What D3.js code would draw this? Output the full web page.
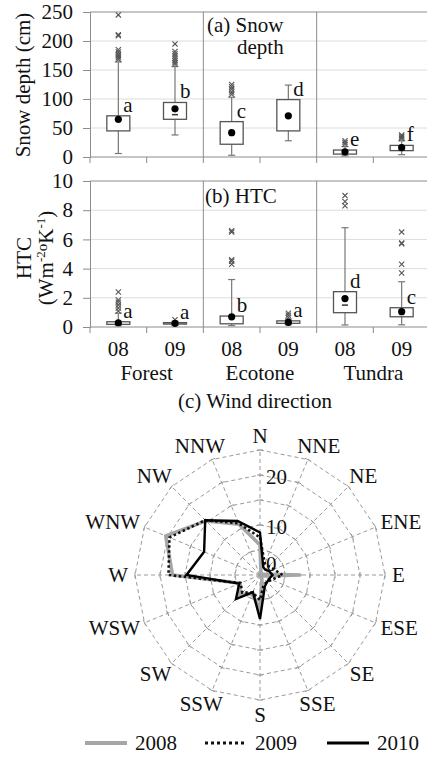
<!DOCTYPE html>
<html>
<head>
<meta charset="utf-8">
<script src="https://cdn.jsdelivr.net/npm/d3@7/dist/d3.min.js"></script>
<style>
  html, body { margin: 0; padding: 0; background: #fff; }
  svg { display: block; }
  svg text { font-family: "Liberation Serif", Tinos, "Times New Roman", Times, "DejaVu Serif", serif !important; fill: #111; }
</style>
</head>
<body>
<svg id="chart" width="427" height="757" font-family="Liberation Serif, Times New Roman, DejaVu Serif, serif"></svg>
<script>
// ---- categories ----
const groups = ["Forest", "Ecotone", "Tundra"];
const years = ["08", "09"];
const boxKeys = ["Forest-08", "Forest-09", "Ecotone-08", "Ecotone-09", "Tundra-08", "Tundra-09"];

// ---- (a) snow depth (cm) ----
const snowLow    = [6, 38, 3, 28, 2, 4];
const snowQ1     = [45, 65, 22, 45, 5, 11];
const snowQ3     = [71, 94, 61, 99, 12, 20];
const snowHigh   = [164, 156, 103, 124, 18, 28];
const snowMean   = [65, 83, 42, 71, 9, 16];
const snowMedian = [null, 73, null, null, null, null];
const snowOutliers = [
  [168, 171, 174, 177, 181, 185, 209, 211, 245],
  [160, 163, 166, 170, 174, 178, 182, 195],
  [108, 112, 117, 121, 125],
  [],
  [22, 25, 28],
  [32, 34, 36, 38]
];
const snowLetters = ["a", "b", "c", "d", "e", "f"];
const snowTicks = [0, 50, 100, 150, 200, 250];

// ---- (b) HTC ----
const htcLow    = [0.08, 0.1, 0.1, 0.15, 0.14, 0.15];
const htcQ1     = [0.18, 0.2, 0.22, 0.25, 0.98, 0.7];
const htcQ3     = [0.36, 0.3, 0.75, 0.42, 2.42, 1.32];
const htcHigh   = [0.95, 0.4, 3.25, 0.55, 6.8, 3.1];
const htcMean   = [0.29, 0.25, 0.7, 0.32, 1.95, 1.05];
const htcMedian = [null, null, null, null, 1.5, null];
const htcOutliers = [
  [1.1, 1.3, 1.5, 1.7, 1.85, 2.4],
  [0.5],
  [4.3, 4.5, 4.6, 6.5, 6.6],
  [0.65, 0.8, 0.95],
  [8.3, 8.6, 9.0],
  [3.7, 4.3, 5.7, 5.75, 6.5]
];
const htcLetters = ["a", "a", "b", "a", "d", "c"];
const htcTicks = [0, 2, 4, 6, 8, 10];

// ---- (c) wind direction (%) ----
const directions = ["N", "NNE", "NE", "ENE", "E", "ESE", "SE", "SSE",
                    "S", "SSW", "SW", "WSW", "W", "WNW", "NW", "NNW"];
const wind2008 = [6, 0.5, 0.3, 0.5, 8, 0.5, 0.3, 1, 7, 4, 5.7, 4.3, 17.5, 20.4, 15.3, 11];
const wind2009 = [7.5, 2.5, 2.5, 3, 4.5, 2.5, 2, 2, 5, 3.8, 5, 4.2, 18.3, 19.6, 15.5, 11.2];
const wind2010 = [8.5, 1.7, 1.5, 2, 2.5, 2, 2, 2.5, 8.8, 3.7, 6.8, 4.5, 14.7, 12.1, 15.5, 11.7];
const windRings = [5, 10, 15, 20, 25];
const windTickLabels = [0, 10, 20];
const legendYears = ["2008", "2009", "2010"];

const svg = d3.select("#chart");
const FONT = 21;
const SERIF = "Liberation Serif, Tinos, Times New Roman, DejaVu Serif, serif";

// shared horizontal band scale for the two box panels
const x = d3.scaleBand().domain(boxKeys).range([90, 430]).paddingInner(0).paddingOuter(0);
const boxW = 23;

function boxPanel(cfg) {
  const { y, ticks, low, q1, q3, high, mean, median, outliers, letters, top, bottom } = cfg;
  const g = svg.append("g");

  // gridlines
  g.selectAll("line.grid").data(ticks.slice(1)).join("line")
    .attr("x1", 90).attr("x2", 430)
    .attr("y1", d => y(d)).attr("y2", d => y(d))
    .attr("stroke", d => d === ticks[ticks.length - 1] ? "#8c8c8c" : "#dcdcdc")
    .attr("stroke-width", 1);

  // group separators
  const seps = [boxKeys[2], boxKeys[4]];
  g.selectAll("line.sep").data(seps).join("line")
    .attr("x1", d => x(d)).attr("x2", d => x(d))
    .attr("y1", top).attr("y2", bottom)
    .attr("stroke", "#8c8c8c").attr("stroke-width", 1);

  // left axis
  const ax = g.append("g").attr("transform", "translate(90,0)")
    .call(d3.axisLeft(y).tickValues(ticks).tickSize(7).tickPadding(10).tickFormat(d3.format("d")));
  ax.attr("font-family", SERIF);
  ax.select(".domain").attr("stroke", "#8c8c8c");
  ax.selectAll(".tick line").attr("stroke", "#8c8c8c");
  ax.selectAll(".tick text").attr("font-size", FONT).attr("fill", "#111");

  // bottom axis line + category boundary ticks
  g.append("line").attr("x1", 90).attr("x2", 430).attr("y1", bottom).attr("y2", bottom)
    .attr("stroke", "#8c8c8c");
  const bounds = boxKeys.map(k => x(k));
  g.selectAll("line.bt").data(bounds).join("line")
    .attr("x1", d => d).attr("x2", d => d)
    .attr("y1", bottom).attr("y2", bottom + 6)
    .attr("stroke", "#8c8c8c");

  boxKeys.forEach((k, i) => {
    const cx = x(k) + x.bandwidth() / 2;
    const bg = g.append("g");
    // whisker
    bg.append("line").attr("x1", cx).attr("x2", cx)
      .attr("y1", y(low[i])).attr("y2", y(high[i]))
      .attr("stroke", "#777").attr("stroke-width", 1.2);
    [low[i], high[i]].forEach(v => {
      bg.append("line").attr("x1", cx - 3.5).attr("x2", cx + 3.5)
        .attr("y1", y(v)).attr("y2", y(v)).attr("stroke", "#777").attr("stroke-width", 1.2);
    });
    // box
    bg.append("rect").attr("x", cx - boxW / 2).attr("width", boxW)
      .attr("y", y(q3[i])).attr("height", Math.max(1, y(q1[i]) - y(q3[i])))
      .attr("fill", "#fff").attr("stroke", "#555").attr("stroke-width", 1.3);
    // median dash
    if (median[i] != null) {
      bg.append("line").attr("x1", cx - 3).attr("x2", cx + 3)
        .attr("y1", y(median[i])).attr("y2", y(median[i]))
        .attr("stroke", "#333").attr("stroke-width", 1.5);
    }
    // outliers as x marks
    bg.selectAll("path.out").data(outliers[i]).join("path")
      .attr("d", d => {
        const py = y(d), s = 2.6;
        return `M${cx - s},${py - s}L${cx + s},${py + s}M${cx - s},${py + s}L${cx + s},${py - s}`;
      })
      .attr("stroke", "#555").attr("stroke-width", 1.1).attr("fill", "none");
    // mean dot
    bg.append("circle").attr("cx", cx).attr("cy", y(mean[i])).attr("r", 3.6).attr("fill", "#000");
    // significance letter
    bg.append("text").attr("x", cx + 5).attr("y", y(q3[i]) - 4)
      .attr("font-size", FONT).text(letters[i]);
  });
  return g;
}

// ---- panel (a) ----
const ySnow = d3.scaleLinear().domain([0, 250]).range([157, 12]);
boxPanel({ y: ySnow, ticks: snowTicks, low: snowLow, q1: snowQ1, q3: snowQ3, high: snowHigh,
  mean: snowMean, median: snowMedian, outliers: snowOutliers, letters: snowLetters, top: 12, bottom: 157 });
svg.append("text").attr("x", 207).attr("y", 32).attr("font-size", FONT).text("(a) Snow");
svg.append("text").attr("x", 237).attr("y", 54).attr("font-size", FONT).text("depth");
svg.append("text").attr("transform", "translate(30,85) rotate(-90)")
  .attr("text-anchor", "middle").attr("font-size", FONT).text("Snow depth (cm)");

// ---- panel (b) ----
const yHtc = d3.scaleLinear().domain([0, 10]).range([327, 181]);
boxPanel({ y: yHtc, ticks: htcTicks, low: htcLow, q1: htcQ1, q3: htcQ3, high: htcHigh,
  mean: htcMean, median: htcMedian, outliers: htcOutliers, letters: htcLetters, top: 181, bottom: 327 });
svg.append("text").attr("x", 205).attr("y", 203).attr("font-size", FONT).text("(b) HTC");
svg.append("text").attr("transform", "translate(31,258) rotate(-90)")
  .attr("text-anchor", "middle").attr("font-size", FONT).text("HTC");
const unit = svg.append("text").attr("transform", "translate(53,258) rotate(-90)")
  .attr("text-anchor", "middle").attr("font-size", FONT);
unit.append("tspan").text("(Wm");
unit.append("tspan").attr("font-size", 13).attr("dy", -8).text("-2");
unit.append("tspan").attr("font-size", 15).attr("dy", 2).text("o");
unit.append("tspan").attr("dy", 6).text("K");
unit.append("tspan").attr("font-size", 13).attr("dy", -8).text("-1");
unit.append("tspan").attr("dy", 8).text(")");

// x labels: year under each box, site under each pair
svg.selectAll("text.yr").data(boxKeys).join("text")
  .attr("x", d => x(d) + x.bandwidth() / 2).attr("y", 356)
  .attr("text-anchor", "middle").attr("font-size", FONT)
  .text((d, i) => years[i % 2]);
svg.selectAll("text.grp").data(groups).join("text")
  .attr("x", (d, i) => x(boxKeys[i * 2]) + x.bandwidth()).attr("y", 380)
  .attr("text-anchor", "middle").attr("font-size", FONT).text(d => d);

// ---- panel (c) wind rose ----
const cx0 = 260, cy0 = 575;
const r = d3.scaleLinear().domain([0, 25]).range([0, 125]);
const ang = i => i * 2 * Math.PI / directions.length;
svg.append("text").attr("x", 255).attr("y", 408).attr("text-anchor", "middle")
  .attr("font-size", FONT).text("(c) Wind direction");

const rose = svg.append("g").attr("transform", `translate(${cx0},${cy0})`);
const ringLine = d3.lineRadial().angle((d, i) => ang(i)).radius(d => r(d)).curve(d3.curveLinearClosed);

// rings
windRings.forEach(v => {
  rose.append("path").attr("d", ringLine(directions.map(() => v)))
    .attr("fill", "none").attr("stroke", "#9a9a9a").attr("stroke-width", 1)
    .attr("stroke-dasharray", "4,3");
});
// spokes
directions.forEach((d, i) => {
  const a = ang(i);
  rose.append("line").attr("x1", 0).attr("y1", 0)
    .attr("x2", Math.sin(a) * r(25)).attr("y2", -Math.cos(a) * r(25))
    .attr("stroke", "#9a9a9a").attr("stroke-width", 1).attr("stroke-dasharray", "4,3");
  // small tick marks across each ring on the spoke
  windRings.forEach(v => {
    const px = Math.sin(a) * r(v), py = -Math.cos(a) * r(v);
    const tx = Math.cos(a) * 3, ty = Math.sin(a) * 3;
    rose.append("line").attr("x1", px - tx).attr("y1", py - ty).attr("x2", px + tx).attr("y2", py + ty)
      .attr("stroke", "#9a9a9a").attr("stroke-width", 1);
  });
});

// data lines
const dataLine = d3.lineRadial().angle((d, i) => ang(i)).radius(d => r(d)).curve(d3.curveLinearClosed);
rose.append("path").attr("d", dataLine(wind2008)).attr("fill", "none")
  .attr("stroke", "#a6a6a6").attr("stroke-width", 3.6).attr("stroke-linejoin", "round");
rose.append("path").attr("d", dataLine(wind2009)).attr("fill", "none")
  .attr("stroke", "#111").attr("stroke-width", 2.6).attr("stroke-dasharray", "2.5,2.5");
rose.append("path").attr("d", dataLine(wind2010)).attr("fill", "none")
  .attr("stroke", "#000").attr("stroke-width", 2.4).attr("stroke-linejoin", "miter");

// value labels along N spoke
rose.selectAll("text.val").data(windTickLabels).join("text")
  .attr("x", 6).attr("y", d => -Math.max(r(d), 13) + 2)
  .attr("dominant-baseline", "central").attr("font-size", FONT).text(d => d);

// direction labels, pushed outward by half their size
directions.forEach((d, i) => {
  const a = ang(i);
  const t = rose.append("text").attr("font-size", FONT)
    .attr("text-anchor", "middle").attr("dominant-baseline", "central").text(d);
  const w = t.node().getComputedTextLength(), h = 15;
  const R = 132;
  t.attr("x", Math.sin(a) * R + Math.sin(a) * w / 2)
   .attr("y", -Math.cos(a) * R - Math.cos(a) * h / 2);
});

// legend
const legX = [85, 205, 327];
const legStyles = [
  { stroke: "#a6a6a6", width: 4, dash: null },
  { stroke: "#111", width: 3, dash: "3,3" },
  { stroke: "#000", width: 3, dash: null }
];
legendYears.forEach((yr, i) => {
  const s = legStyles[i];
  svg.append("line").attr("x1", legX[i]).attr("x2", legX[i] + 42).attr("y1", 743).attr("y2", 743)
    .attr("stroke", s.stroke).attr("stroke-width", s.width).attr("stroke-dasharray", s.dash);
  svg.append("text").attr("x", legX[i] + 50).attr("y", 750).attr("font-size", FONT).text(yr);
});
</script>
</body>
</html>
